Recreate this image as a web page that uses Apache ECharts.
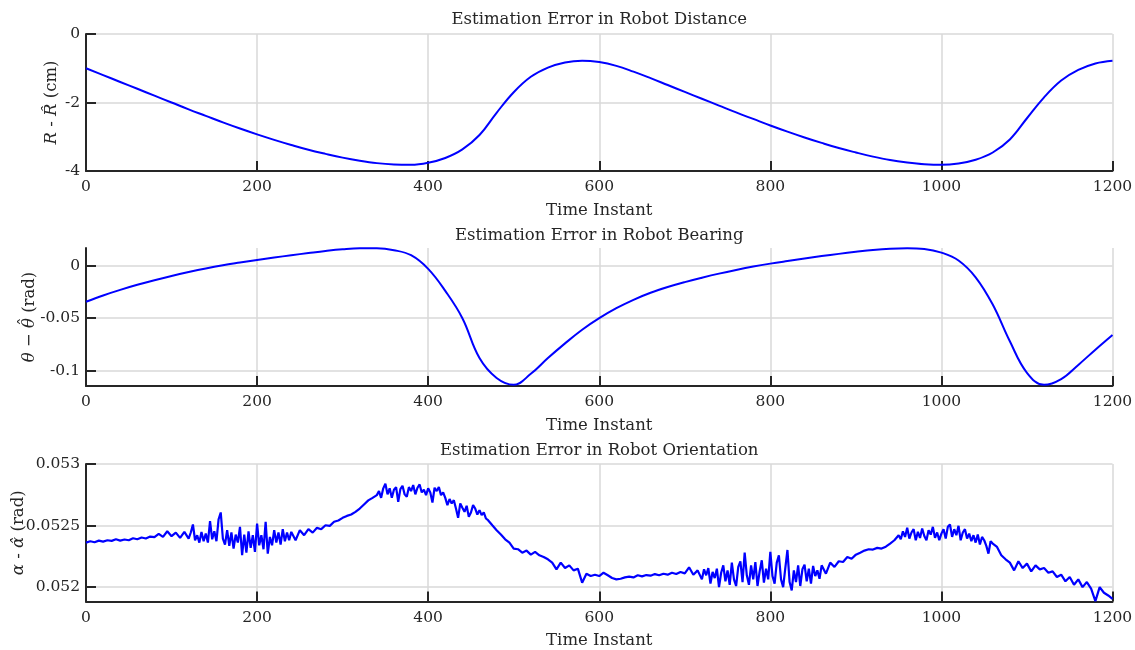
<!DOCTYPE html>
<html>
<head>
<meta charset="utf-8">
<script src="https://cdn.jsdelivr.net/npm/echarts@6/dist/echarts.min.js"></script>
<style>
html, body { margin: 0; padding: 0; background: #ffffff; }
#chart { width: 1135px; height: 650px; }
</style>
</head>
<body>
<div id="chart"></div>
<script>
// Time instants shared by the two smooth error traces
const sampleTime = [
  0, 20, 40, 60, 80, 100, 120, 140, 160, 180, 200, 220, 240, 260, 280, 300,
  320, 340, 360, 380, 400, 420, 440, 460, 480, 500, 520, 540, 560, 580, 600,
  620, 640, 660, 680, 700, 720, 740, 760, 780, 800, 820, 840, 860, 880, 900,
  920, 940, 960, 980, 1000, 1020, 1040, 1060, 1080, 1100, 1120, 1140, 1160, 1180, 1200
];

// R - R^ (cm)
const distanceError = [
  -1.00, -1.20, -1.40, -1.60, -1.80, -2.00, -2.20, -2.39, -2.58, -2.76, -2.93,
  -3.09, -3.24, -3.38, -3.50, -3.61, -3.70, -3.77, -3.81, -3.82, -3.76,
  -3.62, -3.37, -2.95, -2.30, -1.70, -1.25, -0.98, -0.83, -0.78, -0.82,
  -0.93, -1.10, -1.29, -1.49, -1.69, -1.89, -2.09, -2.29, -2.48, -2.67,
  -2.85, -3.02, -3.18, -3.33, -3.46, -3.58, -3.68, -3.75, -3.80, -3.82,
  -3.78, -3.67, -3.46, -3.08, -2.46, -1.85, -1.36, -1.05, -0.86, -0.78
];

// theta - theta^ (rad)
const bearingError = [
  -0.0343, -0.0283, -0.0230, -0.0182, -0.0138, -0.0097, -0.0060, -0.0026, 0.0004, 0.0030, 0.0055,
  0.0078, 0.0100, 0.0121, 0.0141, 0.0157, 0.0166, 0.0166, 0.0148, 0.0100, -0.0030,
  -0.0240, -0.0500, -0.0880, -0.1070, -0.1135, -0.1030, -0.0880, -0.0740, -0.0610, -0.0500,
  -0.0405, -0.0325, -0.0258, -0.0203, -0.0156, -0.0114, -0.0075, -0.0040, -0.0008, 0.0020,
  0.0045, 0.0069, 0.0092, 0.0113, 0.0133, 0.0151, 0.0163, 0.0167, 0.0160, 0.0125,
  0.0050, -0.0110, -0.0370, -0.0720, -0.1020, -0.1135, -0.1080, -0.0945, -0.0800, -0.0660
];

// Time instants of the orientation estimate (finer where the estimate jitters most)
const orientationTime = [
  0, 5, 10, 15, 20, 25, 30, 35, 40, 45, 50, 55, 60, 65, 70, 75, 80, 85, 90, 95, 100, 105, 110, 115,
  120, 122.5, 125, 127.5, 130, 132.5, 135, 137.5, 140, 142.5, 145, 147.5, 150, 152.5, 155, 157.5,
  160, 162.5, 165, 167.5, 170, 172.5, 175, 177.5, 180, 182.5, 185, 187.5, 190, 192.5, 195, 197.5,
  200, 202.5, 205, 207.5, 210, 212.5, 215, 217.5, 220, 222.5, 225, 227.5, 230, 232.5, 235, 237.5, 240,
  245, 250, 255, 260, 265, 270, 275, 280, 285, 290, 295, 300, 305, 310, 315, 320, 325, 330, 335,
  340, 342.5, 345, 347.5, 350, 352.5, 355, 357.5, 360, 362.5, 365, 367.5, 370, 372.5, 375, 377.5,
  380, 382.5, 385, 387.5, 390, 392.5, 395, 397.5, 400, 402.5, 405, 407.5, 410, 412.5, 415, 417.5,
  420, 422.5, 425, 427.5, 430, 432.5, 435, 437.5, 440, 442.5, 445, 447.5, 450, 452.5, 455, 457.5,
  460, 462.5, 465, 467.5, 470,
  475, 480, 485, 490, 495, 500, 505, 510, 515, 520, 525, 530, 535, 540, 545, 550, 555, 560, 565, 570,
  575, 580, 585, 590, 595, 600, 605, 610, 615, 620, 625, 630, 635, 640, 645, 650, 655, 660, 665, 670,
  675, 680, 685, 690, 695, 700, 705, 710, 715,
  720, 722.5, 725, 727.5, 730, 732.5, 735, 737.5, 740, 742.5, 745, 747.5, 750, 752.5, 755, 757.5,
  760, 762.5, 765, 767.5, 770, 772.5, 775, 777.5, 780, 782.5, 785, 787.5, 790, 792.5, 795, 797.5,
  800, 802.5, 805, 807.5, 810, 812.5, 815, 817.5, 820, 822.5, 825, 827.5, 830, 832.5, 835, 837.5,
  840, 842.5, 845, 847.5, 850, 852.5, 855, 857.5, 860,
  865, 870, 875, 880, 885, 890, 895, 900, 905, 910, 915, 920, 925, 930, 935, 940, 945,
  950, 952.5, 955, 957.5, 960, 962.5, 965, 967.5, 970, 972.5, 975, 977.5, 980, 982.5, 985, 987.5,
  990, 992.5, 995, 997.5, 1000, 1002.5, 1005, 1007.5, 1010, 1012.5, 1015, 1017.5, 1020, 1022.5, 1025, 1027.5,
  1030, 1032.5, 1035, 1037.5, 1040, 1042.5, 1045, 1047.5, 1050, 1052.5, 1055, 1057.5, 1060,
  1065, 1070, 1075, 1080, 1085, 1090, 1095, 1100, 1105, 1110, 1115, 1120, 1125, 1130, 1135, 1140,
  1145, 1150, 1155, 1160, 1165, 1170, 1175, 1180, 1185, 1190, 1195, 1200
];

// alpha - alpha^ (rad)
const orientationError = [
  0.052361, 0.052372, 0.052364, 0.052377, 0.052369, 0.052380, 0.052375, 0.052388, 0.052377, 0.052386,
  0.052380, 0.052396, 0.052388, 0.052402, 0.052394, 0.052410, 0.052405, 0.052432, 0.052407, 0.052453,
  0.052413, 0.052442, 0.052399, 0.052448,
  0.052394, 0.052443, 0.052508, 0.052380, 0.052421, 0.052361, 0.052448, 0.052372, 0.052434, 0.052361,
  0.052535, 0.052388, 0.052453, 0.052372, 0.052551, 0.052606,
  0.052394, 0.052345, 0.052462, 0.052334, 0.052443, 0.052312, 0.052426, 0.052361, 0.052489, 0.052258,
  0.052426, 0.052279, 0.052453, 0.052318, 0.052421, 0.052285,
  0.052516, 0.052339, 0.052421, 0.052307, 0.052530, 0.052271, 0.052407, 0.052339, 0.052462, 0.052361,
  0.052443, 0.052345, 0.052470, 0.052372, 0.052443, 0.052380, 0.052448,
  0.052380, 0.052462, 0.052421, 0.052470, 0.052442, 0.052481, 0.052470, 0.052502, 0.052497, 0.052530,
  0.052541, 0.052562, 0.052578, 0.052589, 0.052611, 0.052638, 0.052671, 0.052704, 0.052725,
  0.052747, 0.052780, 0.052725, 0.052802, 0.052840, 0.052753, 0.052802, 0.052725, 0.052791, 0.052812,
  0.052693, 0.052796, 0.052823, 0.052753, 0.052734, 0.052812,
  0.052780, 0.052829, 0.052753, 0.052807, 0.052834, 0.052769, 0.052791, 0.052747, 0.052802, 0.052769,
  0.052687, 0.052807, 0.052780, 0.052812, 0.052747, 0.052769,
  0.052725, 0.052666, 0.052715, 0.052679, 0.052706, 0.052638, 0.052562, 0.052679, 0.052644, 0.052611,
  0.052660, 0.052570, 0.052606, 0.052666, 0.052638, 0.052589,
  0.052625, 0.052584, 0.052606, 0.052557, 0.052543,
  0.052502, 0.052462, 0.052426, 0.052388, 0.052361, 0.052312, 0.052307, 0.052279, 0.052296, 0.052263,
  0.052285, 0.052258, 0.052244, 0.052225, 0.052198, 0.052143, 0.052198, 0.052154, 0.052176, 0.052135,
  0.052149, 0.052035, 0.052108, 0.052089, 0.052100, 0.052089, 0.052116, 0.052095, 0.052073, 0.052062,
  0.052067, 0.052078, 0.052084, 0.052078, 0.052095, 0.052086, 0.052097, 0.052092, 0.052105, 0.052095,
  0.052108, 0.052100, 0.052116, 0.052105, 0.052122, 0.052111, 0.052160, 0.052100, 0.052135,
  0.052062, 0.052144, 0.052095, 0.052154, 0.052027, 0.052122, 0.052073, 0.052149, 0.051999, 0.052116,
  0.052176, 0.052046, 0.052135, 0.052018, 0.052198, 0.052062,
  0.052008, 0.052163, 0.052209, 0.052040, 0.052279, 0.052095, 0.052018, 0.052176, 0.052062, 0.052203,
  0.052008, 0.052127, 0.052217, 0.052035, 0.052149, 0.052062,
  0.052285, 0.052089, 0.052027, 0.052198, 0.052258, 0.052062, 0.051999, 0.052154, 0.052301, 0.052040,
  0.051972, 0.052135, 0.052040, 0.052176, 0.052008, 0.052144,
  0.052182, 0.052046, 0.052149, 0.052027, 0.052171, 0.052089, 0.052135, 0.052067, 0.052176,
  0.052108, 0.052198, 0.052163, 0.052209, 0.052203, 0.052244, 0.052230, 0.052263, 0.052279, 0.052296,
  0.052307, 0.052304, 0.052318, 0.052312, 0.052328, 0.052353, 0.052380,
  0.052421, 0.052388, 0.052453, 0.052407, 0.052481, 0.052394, 0.052443, 0.052470, 0.052380, 0.052448,
  0.052399, 0.052475, 0.052415, 0.052380, 0.052462, 0.052426,
  0.052489, 0.052399, 0.052443, 0.052380, 0.052434, 0.052470, 0.052394, 0.052489, 0.052508, 0.052407,
  0.052470, 0.052421, 0.052497, 0.052380, 0.052443, 0.052470,
  0.052394, 0.052434, 0.052372, 0.052421, 0.052361, 0.052426, 0.052345, 0.052407, 0.052380, 0.052334,
  0.052271, 0.052372, 0.052353,
  0.052326, 0.052258, 0.052225, 0.052198, 0.052135, 0.052209, 0.052154, 0.052190, 0.052127, 0.052176,
  0.052143, 0.052154, 0.052116, 0.052127, 0.052081, 0.052100,
  0.052046, 0.052081, 0.052018, 0.052062, 0.051999, 0.052040, 0.051986, 0.051885, 0.051999, 0.051953,
  0.051931, 0.051904
];

// Axis ticks
const timeTicks = [0, 200, 400, 600, 800, 1000, 1200];
const distanceTicks = [-4, -2, 0];
const bearingTicks = [-0.1, -0.05, 0];
const orientationTicks = [0.052, 0.0525, 0.053];

const FONT = 'DejaVu Serif';
const INK = '#262626';
const GRID_GRAY = '#d9d9d9';
const LINE_BLUE = '#0000ff';
const PLOT_LEFT = 86;
const PLOT_WIDTH = 1026.5;
const TICK_SIZE = 15.5;
const TEXT_SIZE = 16.5;

const panels = [
  {
    title: 'Estimation Error in Robot Distance', titleTop: 11,
    top: 34, height: 137, min: -4, max: 0, ticks: distanceTicks,
    label: '{i|R} - {i|R\u0302} (cm)', labelX: 52,
    time: sampleTime, values: distanceError, width: 2
  },
  {
    title: 'Estimation Error in Robot Bearing', titleTop: 227,
    top: 248, height: 138, min: -0.1146, max: 0.0169, ticks: bearingTicks,
    label: null, labelX: 30,
    time: sampleTime, values: bearingError, width: 2
  },
  {
    title: 'Estimation Error in Robot Orientation', titleTop: 442,
    top: 464, height: 137.5, min: 0.051882, max: 0.053, ticks: orientationTicks,
    label: '{i|\u03B1} - {i|\u03B1\u0302} (rad)', labelX: 18.5,
    time: orientationTime, values: orientationError, width: 2.2
  }
];

const textBase = { fontFamily: FONT, color: INK };
const italicFill = { i: { fontStyle: 'italic', fontFamily: FONT, fontSize: TEXT_SIZE, fill: INK } };

// Vertical y-axis label, reading bottom to top, centred on its panel
function verticalLabel(text, cx, cy, extra) {
  return {
    type: 'group',
    x: cx, y: cy,
    rotation: Math.PI / 2,
    children: [{
      type: 'text',
      style: {
        text: text, rich: italicFill,
        fontFamily: FONT, fontSize: TEXT_SIZE, fill: INK,
        align: 'center', verticalAlign: 'middle'
      }
    }].concat(extra || [])
  };
}

// The bearing label carries a hat over the second theta, placed by measuring the text
function bearingLabel(cx, cy) {
  const ctx = document.createElement('canvas').getContext('2d');
  ctx.font = 'italic ' + TEXT_SIZE + 'px "' + FONT + '"';
  const wTheta = ctx.measureText('\u03B8').width;
  ctx.font = TEXT_SIZE + 'px "' + FONT + '"';
  const wMinus = ctx.measureText(' \u2212 ').width;
  const wUnit = ctx.measureText(' (rad)').width;
  const total = 2 * wTheta + wMinus + wUnit;
  const hatX = wTheta + wMinus + wTheta / 2 - total / 2 + 1.5;
  return verticalLabel('{i|\u03B8} \u2212 {i|\u03B8} (rad)', cx, cy, [{
    type: 'text',
    x: hatX, y: -4,
    style: {
      text: '\u02C6',
      fontFamily: FONT, fontSize: TEXT_SIZE, fill: INK,
      align: 'center', verticalAlign: 'middle'
    }
  }]);
}

const option = {
  animation: false,
  backgroundColor: '#ffffff',
  title: panels.map(p => ({
    text: p.title,
    left: PLOT_LEFT + PLOT_WIDTH / 2,
    textAlign: 'center',
    top: p.titleTop,
    padding: 0,
    textStyle: Object.assign({ fontSize: TEXT_SIZE, fontWeight: 'normal' }, textBase)
  })),
  grid: panels.map(p => ({
    left: PLOT_LEFT, width: PLOT_WIDTH, top: p.top, height: p.height,
    containLabel: false,
    outerBoundsMode: 'none'
  })),
  xAxis: panels.map((p, i) => ({
    gridIndex: i,
    type: 'value',
    min: 0, max: 1200, interval: 200,
    name: 'Time Instant',
    nameLocation: 'middle',
    nameGap: 31,
    nameMoveOverlap: false,
    nameTextStyle: Object.assign({ fontSize: TEXT_SIZE }, textBase),
    axisLine: { show: true, onZero: false, lineStyle: { color: INK, width: 2 } },
    axisTick: { show: true, inside: true, length: 10, customValues: timeTicks, lineStyle: { color: INK, width: 2 } },
    axisLabel: Object.assign({
      fontSize: TICK_SIZE, margin: 8, customValues: timeTicks,
      formatter: v => String(v)
    }, textBase),
    splitLine: { show: true, lineStyle: { color: GRID_GRAY, width: 1.5 } }
  })),
  yAxis: panels.map((p, i) => ({
    gridIndex: i,
    type: 'value',
    min: p.min, max: p.max,
    axisLine: { show: true, onZero: false, lineStyle: { color: INK, width: 2 } },
    axisTick: { show: true, inside: true, length: 10, customValues: p.ticks, lineStyle: { color: INK, width: 2 } },
    axisLabel: Object.assign({
      fontSize: TICK_SIZE, margin: 6, customValues: p.ticks,
      formatter: v => String(parseFloat(Number(v).toPrecision(6)))
    }, textBase),
    splitLine: { show: true, lineStyle: { color: GRID_GRAY, width: 1.5 } }
  })),
  graphic: panels.map(p => {
    const cy = p.top + p.height / 2;
    return p.label ? verticalLabel(p.label, p.labelX, cy) : bearingLabel(p.labelX, cy);
  }),
  series: panels.map((p, i) => ({
    type: 'line',
    xAxisIndex: i,
    yAxisIndex: i,
    data: p.time.map((t, k) => [t, p.values[k]]),
    showSymbol: false,
    smooth: i < 2 ? 0.4 : false,
    clip: true,
    lineStyle: { color: LINE_BLUE, width: p.width }
  }))
};

const chart = echarts.init(document.getElementById('chart'), null, { renderer: 'canvas' });
chart.setOption(option);
</script>
</body>
</html>
